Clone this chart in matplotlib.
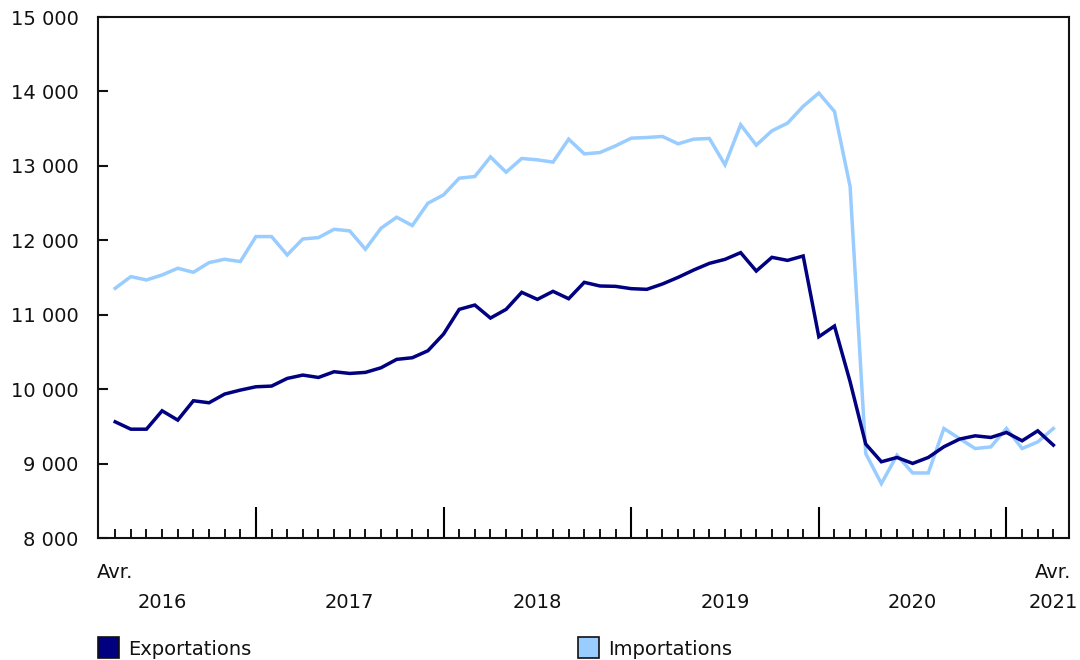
import matplotlib
matplotlib.use("Agg")
import matplotlib.pyplot as plt
from matplotlib.patches import Rectangle
from matplotlib.ticker import FixedLocator, FuncFormatter
import matplotlib.transforms as mtransforms

plt.rcParams['font.family'] = ['DejaVu Sans']

# Monthly values, April 2016 to April 2021
exportations = [9561, 9462, 9462, 9709, 9584, 9844, 9817, 9934, 9987, 10032,
                10041, 10144, 10189, 10157, 10234, 10211, 10225, 10287, 10400, 10422,
                10516, 10740, 11072, 11130, 10955, 11072, 11301, 11206, 11314, 11215,
                11435, 11386, 11381, 11350, 11341, 11413, 11502, 11601, 11690, 11744,
                11834, 11587, 11771, 11730, 11789, 10704, 10848, 10100, 9262, 9024,
                9082, 9002, 9082, 9226, 9329, 9373, 9351, 9418, 9306, 9440, 9248]
importations = [11355, 11512, 11467, 11534, 11624, 11570, 11700, 11745, 11714, 12050,
                12050, 11803, 12018, 12036, 12148, 12126, 11880, 12162, 12310, 12198,
                12498, 12610, 12834, 12857, 13120, 12915, 13099, 13081, 13050, 13359,
                13161, 13179, 13269, 13372, 13381, 13395, 13296, 13359, 13368, 13014,
                13552, 13278, 13471, 13574, 13800, 13978, 13731, 12722, 9134, 8731,
                9112, 8874, 8874, 9471, 9336, 9202, 9224, 9471, 9202, 9291, 9471]
months = list(range(len(exportations)))
year_labels = ['2016', '2017', '2018', '2019', '2020', '2021']
year_positions = [3, 15, 27, 39, 51, 60]
month_label = 'Avr.'
month_label_positions = [0, 60]
january_positions = [9, 21, 33, 45, 57]
series_names = ['Exportations', 'Importations']
colors = ['#000080', '#99CCFF']
yticks = [8000, 9000, 10000, 11000, 12000, 13000, 14000, 15000]

fig = plt.figure(figsize=(10.8, 6.6), dpi=100)
ax = fig.add_axes([98/1080, 1-538/660, (1069-98)/1080, (538-17)/660])

ax.plot(months, importations, color=colors[1], lw=2.5, solid_joinstyle='miter', zorder=3)
ax.plot(months, exportations, color=colors[0], lw=2.5, solid_joinstyle='miter', zorder=4)

ax.set_xlim(-1.1, 61.0)
ax.set_ylim(8000, 15000)

for s in ax.spines.values():
    s.set_linewidth(1.5)
    s.set_color('#111111')

ax.yaxis.set_major_locator(FixedLocator(yticks))
ax.yaxis.set_major_formatter(FuncFormatter(lambda v, p: f"{int(v):,}".replace(',', ' ')))
ax.tick_params(axis='y', direction='in', length=7.5, width=1.5, pad=14, labelsize=14,
               colors='#111111')

ax.xaxis.set_major_locator(FixedLocator(january_positions))
ax.xaxis.set_minor_locator(FixedLocator(months))
ax.tick_params(axis='x', which='major', direction='in', length=22, width=1.5, labelbottom=False)
ax.tick_params(axis='x', which='minor', direction='in', length=6.5, width=1.3)

trans = mtransforms.blended_transform_factory(ax.transData, fig.transFigure)
for pos in month_label_positions:
    ax.text(pos, 1-578/660, month_label, transform=trans, ha='center', va='baseline',
            fontsize=14, color='#111111')
for pos, lab in zip(year_positions, year_labels):
    ax.text(pos, 1-608/660, lab, transform=trans, ha='center', va='baseline',
            fontsize=14, color='#111111')

# Legend
leg_x = [98, 578]
for xpx, name, col in zip(leg_x, series_names, colors):
    fig.patches.append(Rectangle((xpx/1080, 1-658/660), 21/1080, 21/660,
                                 transform=fig.transFigure, facecolor=col,
                                 edgecolor='#111111', linewidth=1.2))
    fig.text((xpx+30)/1080, 1-655/660, name, ha='left', va='baseline', fontsize=14,
             color='#111111')

fig.savefig('out.png', dpi=100)
